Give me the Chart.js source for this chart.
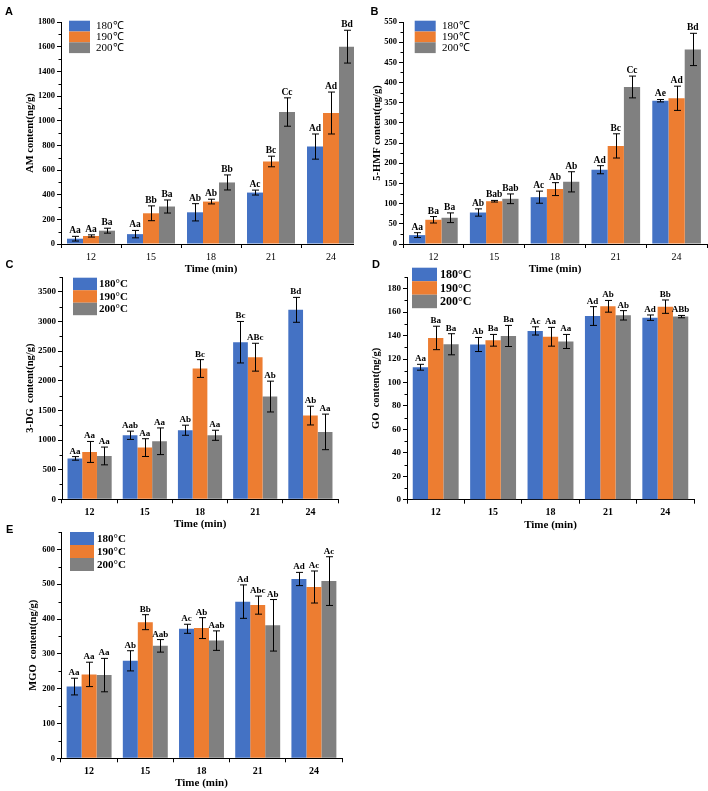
<!DOCTYPE html>
<html>
<head>
<meta charset="utf-8">
<script src="https://cdn.jsdelivr.net/npm/chart.js@4.4.1/dist/chart.umd.min.js"></script>
<style>
html, body { margin: 0; padding: 0; background: #fff; }
body { width: 708px; height: 791px; position: relative; overflow: hidden; }
.panel { position: absolute; overflow: hidden; }
canvas { display: block; }
</style>
</head>
<body>
<div class="panel" style="left:0;top:0;width:354px;height:280px"><canvas id="chartA" width="362" height="280"></canvas></div>
<div class="panel" style="left:354px;top:0;width:354px;height:280px"><canvas id="chartB" width="354" height="280"></canvas></div>
<div class="panel" style="left:0;top:252px;width:354px;height:280px"><canvas id="chartC" width="354" height="280"></canvas></div>
<div class="panel" style="left:354px;top:252px;width:354px;height:280px"><canvas id="chartD" width="354" height="280"></canvas></div>
<div class="panel" style="left:0;top:518px;width:354px;height:273px"><canvas id="chartE" width="354" height="273"></canvas></div>
<script>
const times = ["12", "15", "18", "21", "24"];
const tempsAB = ["180℃", "190℃", "200℃"];
const tempsCDE = ["180°C", "190°C", "200°C"];
const colors = ["#4472C4", "#ED7D31", "#808080"];

// A - AM
const am180 = [43, 80, 257, 417, 790];
const am190 = [65, 249, 344, 669, 1062];
const am200 = [108, 304, 499, 1070, 1600];
const am180Err = [19, 30, 70, 20, 102];
const am190Err = [9, 60, 19, 43, 170];
const am200Err = [20, 53, 61, 115, 133];
const am180Sig = ["Aa", "Aa", "Ab", "Ac", "Ad"];
const am190Sig = ["Aa", "Bb", "Ab", "Bc", "Ad"];
const am200Sig = ["Ba", "Ba", "Bb", "Cc", "Bd"];

// B - 5-HMF
const hmf180 = [22, 78, 116, 184, 355];
const hmf190 = [60, 106, 136, 243, 361];
const hmf200 = [65, 112, 154, 389, 482];
const hmf180Err = [6, 9, 15, 10, 3];
const hmf190Err = [8, 2, 16, 30, 30];
const hmf200Err = [12, 12, 25, 27, 40];
const hmf180Sig = ["Aa", "Ab", "Ac", "Ad", "Ae"];
const hmf190Sig = ["Ba", "Bab", "Ab", "Bc", "Ad"];
const hmf200Sig = ["Ba", "Bab", "Ab", "Cc", "Bd"];

// C - 3-DG
const dg180 = [690, 1080, 1165, 2650, 3196];
const dg190 = [799, 872, 2206, 2397, 1412];
const dg200 = [731, 979, 1080, 1733, 1137];
const dg180Err = [30, 70, 85, 350, 210];
const dg190Err = [177, 150, 150, 235, 158];
const dg200Err = [150, 225, 85, 260, 300];
const dg180Sig = ["Aa", "Aab", "Ab", "Bc", "Bd"];
const dg190Sig = ["Aa", "Aa", "Bc", "ABc", "Ab"];
const dg200Sig = ["Aa", "Aa", "Aa", "Ab", "Aa"];

// D - GO
const go180 = [113, 132.4, 144, 156.7, 155.3];
const go190 = [138, 136, 139, 165, 164.7];
const go200 = [132.6, 139.7, 135, 157.3, 156.2];
const go180Err = [2.5, 6, 3.5, 8, 2.3];
const go190Err = [10, 5, 8, 5, 5.7];
const go200Err = [9, 9, 6, 4, 1];
const go180Sig = ["Aa", "Ab", "Ac", "Ad", "Ad"];
const go190Sig = ["Ba", "Ba", "Aa", "Ab", "Bb"];
const go200Sig = ["Ba", "Ba", "Aa", "Ab", "ABb"];

// E - MGO
const mgo180 = [206, 280, 372, 450, 515];
const mgo190 = [241, 391, 374, 440, 492];
const mgo200 = [239, 323, 338, 382, 509];
const mgo180Err = [24, 29, 13, 48, 19];
const mgo190Err = [35, 21.5, 30, 26, 46];
const mgo200Err = [48, 18, 28, 74, 70];
const mgo180Sig = ["Aa", "Ab", "Ac", "Ad", "Ad"];
const mgo190Sig = ["Aa", "Bb", "Ab", "Abc", "Ac"];
const mgo200Sig = ["Aa", "Aab", "Aab", "Ab", "Ac"];

const SERIF = "'Liberation Serif', 'Times New Roman', serif";

// error bars, significance letters, minor ticks, legend and panel letter
function decoPlugin(p) {
    return {
        id: "deco",
        afterDraw(chart) {
            const ctx = chart.ctx;
            const y = chart.scales.y;
            const area = chart.chartArea;
            ctx.save();
            ctx.strokeStyle = "#000";
            ctx.lineWidth = 1;

            // minor ticks on y
            for (let v = p.minor; v < p.max + 1e-9; v += p.minor) {
                if (Math.abs(v / p.step - Math.round(v / p.step)) < 1e-6) continue;
                const py = Math.round(y.getPixelForValue(v)) + 0.5;
                ctx.beginPath();
                ctx.moveTo(area.left - 2.5, py);
                ctx.lineTo(area.left, py);
                ctx.stroke();
            }

            // error bars + letters
            ctx.font = "bold " + p.sigSize + "px " + SERIF;
            ctx.fillStyle = "#000";
            ctx.textAlign = "center";
            ctx.textBaseline = "alphabetic";
            chart.data.datasets.forEach((ds, di) => {
                chart.getDatasetMeta(di).data.forEach((bar, i) => {
                    const v = ds.data[i], e = ds.errors[i];
                    const yt = y.getPixelForValue(v + e);
                    const yb = y.getPixelForValue(v - e);
                    const x = Math.round(bar.x) + 0.5;
                    ctx.beginPath();
                    ctx.moveTo(x, yt); ctx.lineTo(x, yb);
                    ctx.moveTo(x - 3.5, yt); ctx.lineTo(x + 3.5, yt);
                    ctx.moveTo(x - 3.5, yb); ctx.lineTo(x + 3.5, yb);
                    ctx.stroke();
                    ctx.fillText(ds.sig[i], bar.x, yt - 3);
                });
            });

            // legend
            const lg = p.legend;
            ctx.textAlign = "left";
            ctx.textBaseline = "middle";
            ctx.font = lg.font;
            lg.labels.forEach((t, i) => {
                const ry = lg.y + i * lg.h;
                ctx.fillStyle = colors[i];
                ctx.fillRect(lg.x, ry, lg.w, lg.h);
                ctx.fillStyle = "#000";
                ctx.fillText(t, lg.tx, ry + lg.h / 2 + 0.5);
            });

            // panel letter
            ctx.font = "bold 11px 'Liberation Sans', Arial, sans-serif";
            ctx.textAlign = "center";
            ctx.fillText(p.letter, p.letterX, p.letterY);
            ctx.restore();
        }
    };
}

function makePanel(id, p) {
    const series = [
        { values: p.v[0], err: p.e[0], sig: p.s[0] },
        { values: p.v[1], err: p.e[1], sig: p.s[1] },
        { values: p.v[2], err: p.e[2], sig: p.s[2] }
    ];
    new Chart(document.getElementById(id), {
        type: "bar",
        data: {
            labels: times,
            datasets: series.map((s, i) => ({
                label: p.legend.labels[i],
                data: s.values,
                errors: s.err,
                sig: s.sig,
                backgroundColor: colors[i],
                borderWidth: 0,
                categoryPercentage: 0.8,
                barPercentage: 1.0
            }))
        },
        options: {
            responsive: false,
            animation: false,
            layout: { padding: { left: 0, right: p.padRight, top: p.top, bottom: 0 } },
            plugins: { legend: { display: false }, tooltip: { enabled: false } },
            scales: {
                x: {
                    grid: { display: true, drawOnChartArea: false, drawTicks: true, tickLength: 4, color: "#000", tickColor: "#000", offset: true },
                    border: { display: true, color: "#000", width: 1 },
                    ticks: { color: "#000", font: { family: SERIF, size: 10, weight: p.xTickWeight }, padding: 3, maxRotation: 0 },
                    title: { display: true, text: "Time (min)", color: "#000", font: { family: SERIF, size: 11, weight: "bold" }, padding: { top: 0, bottom: p.xTitlePad } },
                    afterFit: s => { s.height = p.xHeight; }
                },
                y: {
                    min: 0,
                    max: p.max,
                    grid: { display: true, drawOnChartArea: false, drawTicks: true, tickLength: 4, color: "#000", tickColor: "#000" },
                    border: { display: true, color: "#000", width: 1 },
                    ticks: { color: "#000", font: { family: SERIF, size: p.yTickSize, weight: "bold" }, padding: 2, autoSkip: false, callback: v => String(v) },
                    afterBuildTicks: s => {
                        const list = [];
                        for (let v = 0; v <= p.max + 1e-9; v += p.step) list.push({ value: v });
                        s.ticks = list;
                    },
                    title: { display: true, text: p.yTitle, color: "#000", font: { family: SERIF, size: 10.5, weight: "bold" }, padding: { top: p.yTitlePad, bottom: 0 } },
                    afterFit: s => { s.width = p.left; }
                }
            }
        },
        plugins: [decoPlugin(p)]
    });
}

makePanel("chartA", {
    v: [am180, am190, am200], e: [am180Err, am190Err, am200Err], s: [am180Sig, am190Sig, am200Sig],
    max: 1800, step: 200, minor: 100, yTitle: "AM content(ng/g)",
    left: 61, padRight: 1, top: 22, xHeight: 36, xTitlePad: 4.4, yTitlePad: 23.7,
    yTickSize: 8.5, xTickWeight: "normal", sigSize: 9.5,
    legend: { labels: tempsAB, x: 69, y: 20.7, w: 21, h: 10.8, tx: 96, font: "11px " + SERIF },
    letter: "A", letterX: 9, letterY: 12
});

makePanel("chartB", {
    v: [hmf180, hmf190, hmf200], e: [hmf180Err, hmf190Err, hmf200Err], s: [hmf180Sig, hmf190Sig, hmf200Sig],
    max: 550, step: 50, minor: 25, yTitle: "5-HMF content(ng/g)",
    left: 49, padRight: 1, top: 22, xHeight: 36, xTitlePad: 4.4, yTitlePad: 17,
    yTickSize: 8.5, xTickWeight: "normal", sigSize: 9.5,
    legend: { labels: tempsAB, x: 60.7, y: 20.7, w: 21, h: 10.8, tx: 88, font: "11px " + SERIF },
    letter: "B", letterX: 20.5, letterY: 12
});

makePanel("chartC", {
    v: [dg180, dg190, dg200], e: [dg180Err, dg190Err, dg200Err], s: [dg180Sig, dg190Sig, dg200Sig],
    max: 3750, step: 500, minor: 250, yTitle: "3-DG  content(ng/g)",
    left: 62, padRight: 16, top: 25, xHeight: 32.7, xTitlePad: 1.4, yTitlePad: 23.7,
    yTickSize: 9, xTickWeight: "bold", sigSize: 9,
    legend: { labels: tempsCDE, x: 73, y: 25.7, w: 24, h: 12.5, tx: 99, font: "bold 11px " + SERIF },
    letter: "C", letterX: 9.5, letterY: 12.5
});

makePanel("chartD", {
    v: [go180, go190, go200], e: [go180Err, go190Err, go200Err], s: [go180Sig, go190Sig, go200Sig],
    max: 190, step: 20, minor: 10, yTitle: "GO  content(ng/g)",
    left: 53, padRight: 14, top: 25, xHeight: 32.3, xTitlePad: 0.4, yTitlePad: 16.4,
    yTickSize: 9, xTickWeight: "bold", sigSize: 9,
    legend: { labels: tempsCDE, x: 58, y: 15.7, w: 25, h: 13.5, tx: 86, font: "bold 12px " + SERIF },
    letter: "D", letterX: 22, letterY: 13
});

makePanel("chartE", {
    v: [mgo180, mgo190, mgo200], e: [mgo180Err, mgo190Err, mgo200Err], s: [mgo180Sig, mgo190Sig, mgo200Sig],
    max: 650, step: 100, minor: 50, yTitle: "MGO  content(ng/g)",
    left: 61, padRight: 12, top: 14, xHeight: 32.7, xTitlePad: 1.4, yTitlePad: 27,
    yTickSize: 8.5, xTickWeight: "bold", sigSize: 9,
    legend: { labels: tempsCDE, x: 70, y: 14, w: 24, h: 13, tx: 97, font: "bold 11px " + SERIF },
    letter: "E", letterX: 9.7, letterY: 12
});
</script>
</body>
</html>
